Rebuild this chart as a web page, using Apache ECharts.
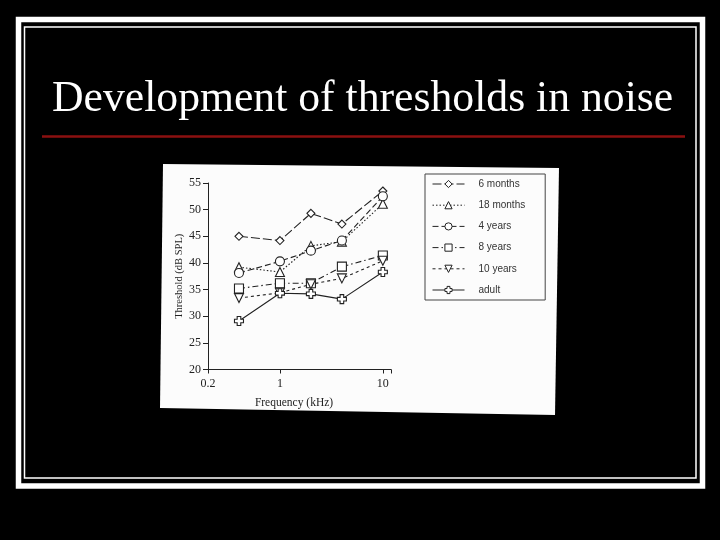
<!DOCTYPE html>
<html><head><meta charset="utf-8">
<script src="https://cdn.jsdelivr.net/npm/echarts@6/dist/echarts.min.js"></script>
<style>html,body{margin:0;padding:0;background:#000;} #c{width:720px;height:540px;}</style>
</head><body><div id="c"></div>
<script>
// ---- data ----
const frequencies = [0.4, 1, 2, 4, 10];            // kHz
const sixMonths      = [45.0, 44.2, 49.3, 47.3, 53.5];
const eighteenMonths = [39.2, 38.3, 43.2, 44.0, 51.1];
const fourYears      = [38.1, 40.3, 42.3, 44.2, 52.5];
const eightYears     = [35.2, 36.2, 36.2, 39.3, 41.4];
const tenYears       = [33.4, 34.4, 36.0, 37.1, 40.4];
const adult          = [29.1, 34.3, 34.2, 33.2, 38.3];
const seriesNames = ['6 months', '18 months', '4 years', '8 years', '10 years', 'adult'];
const xTickLabels = [0.2, 1, 10];
const yTickLabels = [20, 25, 30, 35, 40, 45, 50, 55];
const titleText = 'Development of thresholds in noise';
const xAxisName = 'Frequency (kHz)';
const yAxisName = 'Threshold (dB SPL)';

// ---- styles ----
const INK = '#222';
const crossPath = 'path://M3,0 H7 V3 H10 V7 H7 V10 H3 V7 H0 V3 H3 Z';
const styles = [
  { symbol: 'diamond', size: 8, dash: [9, 3] },
  { symbol: 'triangle', size: 9, dash: [1.5, 2] },
  { symbol: 'circle', size: 9, dash: [6, 3] },
  { symbol: 'rect', size: 9, dash: [6, 3, 1.5, 3] },
  { symbol: 'triangle', size: 9, dash: [3, 3], rotate: 180 },
  { symbol: crossPath, size: 9, dash: 'solid' }
];
const values = [sixMonths, eighteenMonths, fourYears, eightYears, tenYears, adult];

const series = seriesNames.map((name, i) => ({
  name,
  type: 'line',
  data: frequencies.map((f, j) => [f, values[i][j]]),
  symbol: styles[i].symbol,
  symbolSize: styles[i].size,
  symbolRotate: styles[i].rotate || 0,
  showAllSymbol: true,
  lineStyle: { color: INK, width: 1.1, type: styles[i].dash },
  itemStyle: { color: '#fff', borderColor: INK, borderWidth: 1.1 },
  emphasis: { disabled: true },
  z: 3 + i
}));

const chart = echarts.init(document.getElementById('c'), null, { renderer: 'canvas' });
chart.setOption({
  backgroundColor: '#000',
  animation: false,
  graphic: [
    { type: 'rect', z: -10, shape: { x: 18.5, y: 19.5, width: 684, height: 466.5 },
      style: { fill: null, stroke: '#fff', lineWidth: 5.5 } },
    { type: 'rect', z: -10, shape: { x: 24.5, y: 27, width: 671.5, height: 451 },
      style: { fill: null, stroke: '#fff', lineWidth: 1.5 } },
    { type: 'text', z: -10, x: 52, y: 99.5,
      style: { text: titleText, fill: '#fff', font: '43.7px "Liberation Serif"', verticalAlign: 'middle', align: 'left' } },
    { type: 'line', z: -10, shape: { x1: 42, y1: 136.5, x2: 685, y2: 136.5 },
      style: { stroke: '#8b1010', lineWidth: 2.5 } },
    { type: 'polygon', z: -10, shape: { points: [[163, 164], [559, 168], [555, 415], [160, 408]] },
      style: { fill: '#fcfcfc' } }
  ],
  grid: { left: 208, top: 183, width: 183, height: 186.5, containLabel: false },
  xAxis: {
    type: 'log', logBase: 10, min: 0.2, max: 12,
    name: xAxisName, nameLocation: 'middle', nameGap: 27,
    nameTextStyle: { color: INK, fontFamily: 'Liberation Serif', fontSize: 11.5, padding: [0, 11, 0, 0] },
    axisLine: { show: true, onZero: false, lineStyle: { color: INK, width: 1 } },
    axisTick: { show: true, inside: false, length: 4, lineStyle: { color: INK } },
    axisLabel: {
      color: INK, fontFamily: 'Liberation Serif', fontSize: 12, margin: 8,
      showMaxLabel: true, showMinLabel: true,
      formatter: v => {
        const t = xTickLabels.find(t => Math.abs(v - t) / t < 1e-6);
        return t === undefined ? '' : String(t);
      }
    },
    splitLine: { show: false }
  },
  yAxis: {
    type: 'value', min: yTickLabels[0], max: yTickLabels[yTickLabels.length - 1], interval: 5,
    name: yAxisName, nameLocation: 'middle', nameGap: 23,
    nameTextStyle: { color: INK, fontFamily: 'Liberation Serif', fontSize: 10.5 },
    axisLine: { show: true, lineStyle: { color: INK, width: 1 } },
    axisTick: { show: true, inside: false, length: 5, lineStyle: { color: INK } },
    axisLabel: { color: INK, fontFamily: 'Liberation Serif', fontSize: 12, margin: 7 },
    splitLine: { show: false }
  },
  legend: {
    orient: 'vertical', left: 425, top: 174,
    data: seriesNames,
    borderColor: '#444', borderWidth: 1, borderRadius: 0,
    padding: [5, 20, 5, 7],
    itemWidth: 32, itemHeight: 9, itemGap: 11.2,
    selectedMode: false,
    lineStyle: { width: 1 },
    itemStyle: { borderWidth: 1 },
    textStyle: { color: '#333', fontFamily: 'Liberation Sans', fontSize: 10, padding: [0, 0, 0, 9] }
  },
  series
});
</script>
</body></html>
